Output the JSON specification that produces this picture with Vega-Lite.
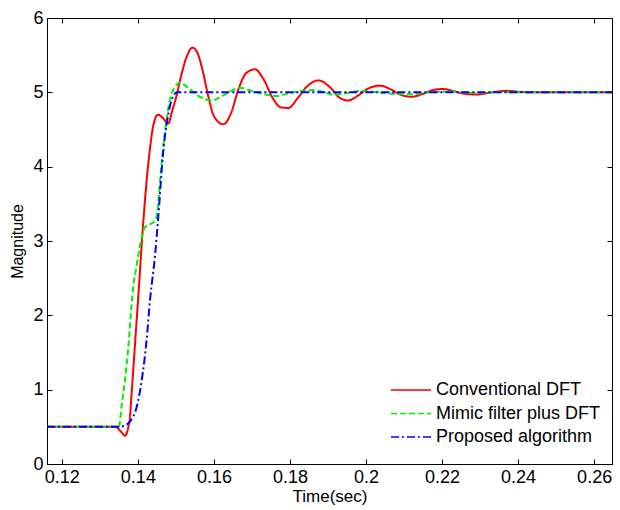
{
  "$schema": "https://vega.github.io/schema/vega-lite/v6.json",
  "width": 565,
  "height": 446,
  "autosize": {"type": "none"},
  "padding": {"left": 47, "top": 18, "right": 8, "bottom": 46},
  "background": "white",
  "config": {
    "view": {"stroke": "black", "strokeWidth": 1},
    "font": "Liberation Sans",
    "axis": {"grid": false, "domainColor": "black", "tickColor": "black", "labelColor": "black", "titleColor": "black", "labelFontSize": 18, "titleFontSize": 16, "titleFontWeight": "normal", "tickSize": -5, "labelPadding": 9}
  },
  "data": {"values": [
    {"t": 0.1161, "v": 0.5, "s": "Conventional DFT"},
    {"t": 0.134, "v": 0.5, "s": "Conventional DFT"},
    {"t": 0.1355, "v": 0.44, "s": "Conventional DFT"},
    {"t": 0.1366, "v": 0.38, "s": "Conventional DFT"},
    {"t": 0.1375, "v": 0.5, "s": "Conventional DFT"},
    {"t": 0.1379, "v": 0.62, "s": "Conventional DFT"},
    {"t": 0.1383, "v": 0.91, "s": "Conventional DFT"},
    {"t": 0.1392, "v": 1.58, "s": "Conventional DFT"},
    {"t": 0.1401, "v": 2.25, "s": "Conventional DFT"},
    {"t": 0.1414, "v": 3.24, "s": "Conventional DFT"},
    {"t": 0.1425, "v": 3.92, "s": "Conventional DFT"},
    {"t": 0.1432, "v": 4.25, "s": "Conventional DFT"},
    {"t": 0.144, "v": 4.54, "s": "Conventional DFT"},
    {"t": 0.1453, "v": 4.7, "s": "Conventional DFT"},
    {"t": 0.1465, "v": 4.66, "s": "Conventional DFT"},
    {"t": 0.148, "v": 4.58, "s": "Conventional DFT"},
    {"t": 0.149, "v": 4.75, "s": "Conventional DFT"},
    {"t": 0.15, "v": 4.92, "s": "Conventional DFT"},
    {"t": 0.1515, "v": 5.25, "s": "Conventional DFT"},
    {"t": 0.153, "v": 5.5, "s": "Conventional DFT"},
    {"t": 0.1543, "v": 5.6, "s": "Conventional DFT"},
    {"t": 0.1555, "v": 5.55, "s": "Conventional DFT"},
    {"t": 0.157, "v": 5.3, "s": "Conventional DFT"},
    {"t": 0.1585, "v": 4.95, "s": "Conventional DFT"},
    {"t": 0.16, "v": 4.68, "s": "Conventional DFT"},
    {"t": 0.1625, "v": 4.57, "s": "Conventional DFT"},
    {"t": 0.1645, "v": 4.72, "s": "Conventional DFT"},
    {"t": 0.1665, "v": 5.05, "s": "Conventional DFT"},
    {"t": 0.1685, "v": 5.26, "s": "Conventional DFT"},
    {"t": 0.1708, "v": 5.31, "s": "Conventional DFT"},
    {"t": 0.173, "v": 5.18, "s": "Conventional DFT"},
    {"t": 0.1755, "v": 4.92, "s": "Conventional DFT"},
    {"t": 0.1775, "v": 4.8, "s": "Conventional DFT"},
    {"t": 0.1796, "v": 4.79, "s": "Conventional DFT"},
    {"t": 0.182, "v": 4.92, "s": "Conventional DFT"},
    {"t": 0.1845, "v": 5.08, "s": "Conventional DFT"},
    {"t": 0.1875, "v": 5.16, "s": "Conventional DFT"},
    {"t": 0.1905, "v": 5.07, "s": "Conventional DFT"},
    {"t": 0.193, "v": 4.93, "s": "Conventional DFT"},
    {"t": 0.1953, "v": 4.89, "s": "Conventional DFT"},
    {"t": 0.198, "v": 4.96, "s": "Conventional DFT"},
    {"t": 0.2005, "v": 5.05, "s": "Conventional DFT"},
    {"t": 0.2037, "v": 5.09, "s": "Conventional DFT"},
    {"t": 0.2065, "v": 5.04, "s": "Conventional DFT"},
    {"t": 0.209, "v": 4.97, "s": "Conventional DFT"},
    {"t": 0.212, "v": 4.94, "s": "Conventional DFT"},
    {"t": 0.215, "v": 4.98, "s": "Conventional DFT"},
    {"t": 0.2175, "v": 5.03, "s": "Conventional DFT"},
    {"t": 0.2203, "v": 5.045, "s": "Conventional DFT"},
    {"t": 0.2235, "v": 5.01, "s": "Conventional DFT"},
    {"t": 0.226, "v": 4.98, "s": "Conventional DFT"},
    {"t": 0.2291, "v": 4.97, "s": "Conventional DFT"},
    {"t": 0.233, "v": 5.0, "s": "Conventional DFT"},
    {"t": 0.237, "v": 5.02, "s": "Conventional DFT"},
    {"t": 0.241, "v": 5.005, "s": "Conventional DFT"},
    {"t": 0.245, "v": 5.0, "s": "Conventional DFT"},
    {"t": 0.2647, "v": 5.0, "s": "Conventional DFT"},
    {"t": 0.1161, "v": 0.5, "s": "Mimic filter plus DFT"},
    {"t": 0.135, "v": 0.5, "s": "Mimic filter plus DFT"},
    {"t": 0.1357, "v": 0.77, "s": "Mimic filter plus DFT"},
    {"t": 0.1366, "v": 1.13, "s": "Mimic filter plus DFT"},
    {"t": 0.1375, "v": 1.58, "s": "Mimic filter plus DFT"},
    {"t": 0.1383, "v": 2.12, "s": "Mimic filter plus DFT"},
    {"t": 0.1388, "v": 2.4, "s": "Mimic filter plus DFT"},
    {"t": 0.1395, "v": 2.62, "s": "Mimic filter plus DFT"},
    {"t": 0.1405, "v": 2.92, "s": "Mimic filter plus DFT"},
    {"t": 0.1418, "v": 3.18, "s": "Mimic filter plus DFT"},
    {"t": 0.1445, "v": 3.27, "s": "Mimic filter plus DFT"},
    {"t": 0.1453, "v": 3.46, "s": "Mimic filter plus DFT"},
    {"t": 0.1459, "v": 3.85, "s": "Mimic filter plus DFT"},
    {"t": 0.1471, "v": 4.45, "s": "Mimic filter plus DFT"},
    {"t": 0.1484, "v": 4.9, "s": "Mimic filter plus DFT"},
    {"t": 0.1495, "v": 5.05, "s": "Mimic filter plus DFT"},
    {"t": 0.1511, "v": 5.13, "s": "Mimic filter plus DFT"},
    {"t": 0.153, "v": 5.07, "s": "Mimic filter plus DFT"},
    {"t": 0.156, "v": 4.95, "s": "Mimic filter plus DFT"},
    {"t": 0.1594, "v": 4.89, "s": "Mimic filter plus DFT"},
    {"t": 0.1625, "v": 4.96, "s": "Mimic filter plus DFT"},
    {"t": 0.165, "v": 5.03, "s": "Mimic filter plus DFT"},
    {"t": 0.1668, "v": 5.06, "s": "Mimic filter plus DFT"},
    {"t": 0.17, "v": 5.02, "s": "Mimic filter plus DFT"},
    {"t": 0.1735, "v": 4.97, "s": "Mimic filter plus DFT"},
    {"t": 0.1765, "v": 4.95, "s": "Mimic filter plus DFT"},
    {"t": 0.18, "v": 4.99, "s": "Mimic filter plus DFT"},
    {"t": 0.183, "v": 5.02, "s": "Mimic filter plus DFT"},
    {"t": 0.186, "v": 5.03, "s": "Mimic filter plus DFT"},
    {"t": 0.189, "v": 5.0, "s": "Mimic filter plus DFT"},
    {"t": 0.1913, "v": 4.97, "s": "Mimic filter plus DFT"},
    {"t": 0.195, "v": 4.99, "s": "Mimic filter plus DFT"},
    {"t": 0.199, "v": 5.02, "s": "Mimic filter plus DFT"},
    {"t": 0.203, "v": 5.0, "s": "Mimic filter plus DFT"},
    {"t": 0.207, "v": 4.98, "s": "Mimic filter plus DFT"},
    {"t": 0.212, "v": 4.975, "s": "Mimic filter plus DFT"},
    {"t": 0.217, "v": 5.0, "s": "Mimic filter plus DFT"},
    {"t": 0.222, "v": 5.01, "s": "Mimic filter plus DFT"},
    {"t": 0.228, "v": 4.99, "s": "Mimic filter plus DFT"},
    {"t": 0.235, "v": 5.0, "s": "Mimic filter plus DFT"},
    {"t": 0.2647, "v": 5.0, "s": "Mimic filter plus DFT"},
    {"t": 0.1161, "v": 0.5, "s": "Proposed algorithm"},
    {"t": 0.135, "v": 0.5, "s": "Proposed algorithm"},
    {"t": 0.1366, "v": 0.52, "s": "Proposed algorithm"},
    {"t": 0.1379, "v": 0.57, "s": "Proposed algorithm"},
    {"t": 0.1397, "v": 0.77, "s": "Proposed algorithm"},
    {"t": 0.141, "v": 1.12, "s": "Proposed algorithm"},
    {"t": 0.1423, "v": 1.67, "s": "Proposed algorithm"},
    {"t": 0.1432, "v": 2.21, "s": "Proposed algorithm"},
    {"t": 0.1445, "v": 2.8, "s": "Proposed algorithm"},
    {"t": 0.1453, "v": 3.28, "s": "Proposed algorithm"},
    {"t": 0.1467, "v": 4.22, "s": "Proposed algorithm"},
    {"t": 0.1478, "v": 4.65, "s": "Proposed algorithm"},
    {"t": 0.1489, "v": 4.9, "s": "Proposed algorithm"},
    {"t": 0.1503, "v": 5.0, "s": "Proposed algorithm"},
    {"t": 0.2647, "v": 5.0, "s": "Proposed algorithm"}
  ]},
  "layer": [
    {
      "mark": {"type": "line", "strokeWidth": 2, "interpolate": "monotone", "clip": true},
      "encoding": {
        "x": {"field": "t", "type": "quantitative", "scale": {"domain": [0.1161, 0.2647], "nice": false, "zero": false},
          "axis": {"title": "Time(sec)", "titleFontSize": 17, "values": [0.12, 0.14, 0.16, 0.18, 0.2, 0.22, 0.24, 0.26], "format": ".2~f", "titlePadding": 2}},
        "y": {"field": "v", "type": "quantitative", "scale": {"domain": [0, 6], "nice": false},
          "axis": {"title": "Magnitude", "titleFontSize": 16, "values": [0, 1, 2, 3, 4, 5, 6], "titlePadding": 7}},
        "color": {"field": "s", "type": "nominal",
          "scale": {"domain": ["Conventional DFT", "Mimic filter plus DFT", "Proposed algorithm"], "range": ["#ff0000", "#00f000", "#0000ff"]},
          "legend": {"title": null, "orient": "none", "legendX": 343, "legendY": 362, "symbolType": "stroke", "symbolSize": 1600, "symbolStrokeWidth": 1.5, "labelFontSize": 18, "labelLimit": 400, "labelColor": "black", "labelOffset": 4, "clipHeight": 20, "rowPadding": 3.5}},
        "strokeDash": {"field": "s", "type": "nominal",
          "scale": {"domain": ["Conventional DFT", "Mimic filter plus DFT", "Proposed algorithm"], "range": [[1, 0], [6, 3], [8, 3, 2, 3]]},
          "legend": null}
      }
    },
    {
      "mark": {"type": "point", "opacity": 0, "size": 0},
      "encoding": {
        "x": {"field": "t", "type": "quantitative", "axis": {"orient": "top", "labels": false, "domain": false, "title": null, "values": [0.12, 0.14, 0.16, 0.18, 0.2, 0.22, 0.24, 0.26]}},
        "y": {"field": "v", "type": "quantitative", "axis": {"orient": "right", "labels": false, "domain": false, "title": null, "values": [0, 1, 2, 3, 4, 5, 6]}}
      }
    }
  ],
  "resolve": {"axis": {"x": "independent", "y": "independent"}}
}
